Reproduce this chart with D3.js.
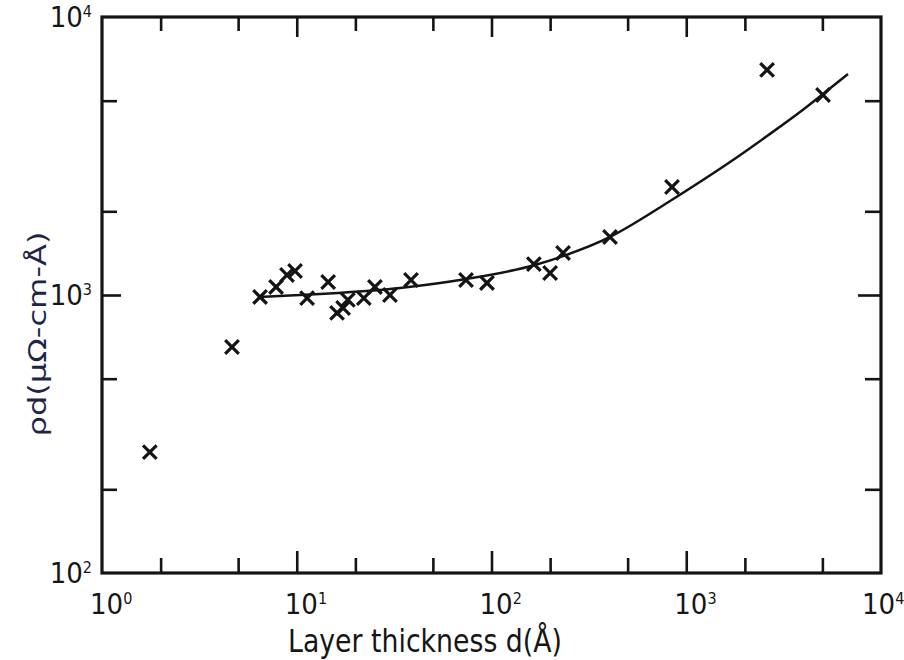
<!DOCTYPE html>
<html>
<head>
<meta charset="utf-8">
<script src="https://cdn.jsdelivr.net/npm/d3@7"></script>
<style>
  body { margin: 0; background: #fff; }
  svg text { font-family: "Liberation Sans Narrow", "DejaVu Sans Condensed", "Liberation Sans", sans-serif; fill: #161616; }
</style>
</head>
<body>
<svg id="chart" width="904" height="660"></svg>
<script>
// measured points: layer thickness d (Å) and rho*d (µΩ-cm-Å)
let thickness = [1.76, 4.65, 6.48, 7.83, 8.91, 9.8, 11.3, 14.5, 16.1, 17.3, 18.3, 22.1, 25.2, 30.1,
                 38.6, 74, 94.8, 165, 200, 233, 406, 845, 2600, 5040];
let rhoD = [272, 650, 984, 1069, 1180, 1220, 975, 1114, 862, 898, 960, 975, 1069, 1000,
            1132, 1132, 1105, 1292, 1200, 1416, 1617, 2446, 6450, 5240];

// fitted curve
let curveD = [6.4, 10.4, 33.9, 74, 167, 233, 406, 533, 826, 1738, 2600, 3838, 5036, 6770];
let curveRho = [984, 1000, 1060, 1142, 1282, 1380, 1617, 1800, 2178, 3059, 3732, 4552, 5284, 6233];

let decades = [1, 10, 100, 1000, 10000];
let xMajorInner = [10, 100, 1000];
let xMinor = [2, 5, 20, 50, 200, 500, 2000, 5000];
let yDecades = [100, 1000, 10000];
let yMajorInner = [1000];
let yMinor = [200, 500, 2000, 5000];

let xLabel = "Layer thickness d(Å)";
let yLabel = "ρd(μΩ-cm-Å)";

var svg = d3.select("#chart");
let plotL = 102, plotR = 881, plotT = 17, plotB = 573;

let x = d3.scaleLog().domain([1, 10000]).range([plotL, plotR]);
let y = d3.scaleLog().domain([100, 10000]).range([plotB, plotT]);

let ink = "#141414";

// ticks on all four sides, pointing inward
function ticks(axisFn, scale, vals, size, tx, ty) {
    svg.append("g")
        .attr("transform", "translate(" + tx + "," + ty + ")")
        .call(axisFn(scale).tickValues(vals).tickSize(size).tickFormat(""))
        .call(g => g.select(".domain").remove())
        .call(g => g.selectAll("line").attr("stroke", ink).attr("stroke-width", 2.6));
}
ticks(d3.axisBottom, x, xMinor, -15, 0, plotB);
ticks(d3.axisBottom, x, xMajorInner, -22, 0, plotB);
ticks(d3.axisTop, x, xMinor, -14, 0, plotT);
ticks(d3.axisTop, x, xMajorInner, -20, 0, plotT);
ticks(d3.axisLeft, y, yMinor, -15, plotL, 0);
ticks(d3.axisLeft, y, yMajorInner, -19, plotL, 0);
ticks(d3.axisRight, y, yMinor, -16, plotR, 0);
ticks(d3.axisRight, y, yMajorInner, -23, plotR, 0);

// frame
svg.append("rect")
    .attr("x", plotL).attr("y", plotT)
    .attr("width", plotR - plotL).attr("height", plotB - plotT)
    .attr("fill", "none").attr("stroke", ink).attr("stroke-width", 3.2);

// tick labels 10^n
function powLabel(g, v) {
    let t = g.append("text").attr("font-size", 29);
    t.append("tspan").text("10");
    t.append("tspan").attr("font-size", 16).attr("dy", -10).text(Math.round(Math.log10(v)));
    return t;
}
decades.forEach(function(v){
    let t = powLabel(svg, v);
    // last label is pulled in so it stays on the page
    t.attr("x", Math.min(x(v) - 12, 862)).attr("y", 614);
});
yDecades.forEach(function(v){
    let t = powLabel(svg, v);
    t.attr("text-anchor", "end").attr("x", 92).attr("y", y(v) + 10);
});

// fitted line
let line = d3.line()
    .x((d, i) => x(curveD[i]))
    .y((d, i) => y(curveRho[i]))
    .curve(d3.curveMonotoneX);
svg.append("path")
    .datum(curveD)
    .attr("d", line)
    .attr("fill", "none")
    .attr("stroke", ink)
    .attr("stroke-width", 2.5);

// crosses
let s = 6.8;
svg.append("g")
    .selectAll("path")
    .data(thickness)
    .enter().append("path")
    .attr("d", function(d, i){
        let cx = x(d), cy = y(rhoD[i]);
        return "M" + (cx - s) + "," + (cy - s) + "L" + (cx + s) + "," + (cy + s) +
               "M" + (cx - s) + "," + (cy + s) + "L" + (cx + s) + "," + (cy - s);
    })
    .attr("stroke", ink)
    .attr("stroke-width", 3.2)
    .attr("fill", "none");

// axis titles
svg.append("text")
    .attr("x", 425).attr("y", 652)
    .attr("text-anchor", "middle")
    .attr("font-size", 32)
    .attr("textLength", 274).attr("lengthAdjust", "spacingAndGlyphs")
    .text(xLabel);

svg.append("text")
    .attr("transform", "translate(46,334) rotate(-90)")
    .attr("text-anchor", "middle")
    .attr("font-size", 25)
    .attr("textLength", 205).attr("lengthAdjust", "spacingAndGlyphs")
    .style("fill", "#1e2646")
    .text(yLabel);
</script>
</body>
</html>
